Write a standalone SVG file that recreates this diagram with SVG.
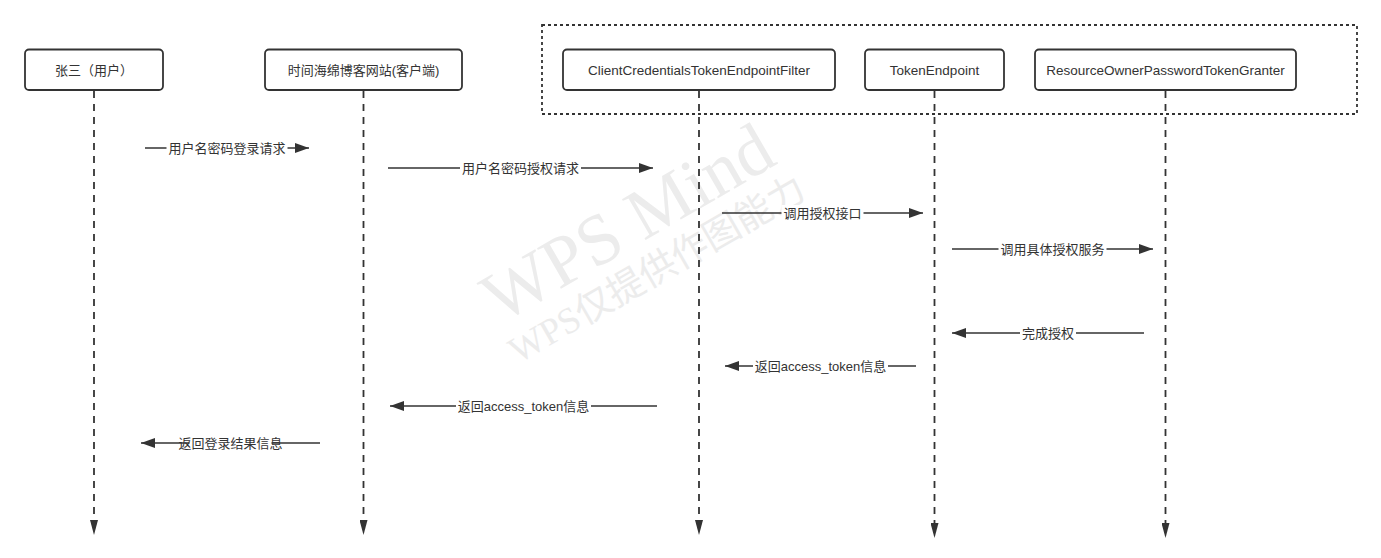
<svg xmlns="http://www.w3.org/2000/svg" width="1381" height="558" viewBox="0 0 1381 558">
<style>
.box{fill:#fff;stroke:#333;stroke-width:1.8}
.lbl{font-family:"Liberation Sans","Noto Sans CJK SC",sans-serif;font-size:13px;fill:#333;text-anchor:middle;dominant-baseline:central}
.lat{font-size:13.5px}
.life{stroke:#333;stroke-width:1.8;stroke-dasharray:7 6;fill:none}
.msg{stroke:#333;stroke-width:1.7;fill:none}
.bg{fill:#fff}
.group{fill:none;stroke:#333;stroke-width:1.8;stroke-dasharray:3 3}
.wm{font-family:"Liberation Serif","Noto Sans CJK SC",serif;fill:#ececec}
</style>
<defs>
<marker id="ah" markerUnits="userSpaceOnUse" markerWidth="14" markerHeight="10" refX="14" refY="5" orient="auto">
<path d="M0,0 L14,5 L0,10 z" fill="#333"/>
</marker>
<marker id="lh" markerUnits="userSpaceOnUse" markerWidth="15" markerHeight="8" refX="0" refY="4" orient="auto">
<path d="M0,0 L15,4 L0,8 z" fill="#333"/>
</marker>
</defs>
<rect width="1381" height="558" fill="#fff"/>
<g id="watermark">
<text class="wm" x="500" y="324" font-size="72" transform="rotate(-30 500 324)">WPS Mind</text>
<text class="wm" x="518" y="364" font-size="37" transform="rotate(-30 518 364)">WPS仅提供作图能力</text>
</g>
<g id="frame">
<rect class="group" x="542" y="25" width="815" height="89"/>
</g>
<g id="connectors">
<line class="life" x1="94" y1="91" x2="94" y2="520" marker-end="url(#lh)"/>
<line class="life" x1="363.5" y1="91" x2="363.5" y2="520" marker-end="url(#lh)"/>
<line class="life" x1="699" y1="91" x2="699" y2="520" marker-end="url(#lh)"/>
<line class="life" x1="934.5" y1="91" x2="934.5" y2="523" marker-end="url(#lh)"/>
<line class="life" x1="1165.5" y1="91" x2="1165.5" y2="523" marker-end="url(#lh)"/>

<line class="msg" x1="145" y1="148" x2="309" y2="148" marker-end="url(#ah)"/>
<rect class="bg" x="166.5" y="140" width="121" height="16"/>
<text class="lbl" x="227" y="148">用户名密码登录请求</text>

<line class="msg" x1="388" y1="168" x2="653" y2="168" marker-end="url(#ah)"/>
<rect class="bg" x="460" y="160" width="121" height="16"/>
<text class="lbl" x="520.5" y="168">用户名密码授权请求</text>

<line class="msg" x1="722" y1="213" x2="923" y2="213" marker-end="url(#ah)"/>
<rect class="bg" x="781.5" y="205" width="82" height="16"/>
<text class="lbl" x="822.5" y="213">调用授权接口</text>

<line class="msg" x1="952" y1="249" x2="1153" y2="249" marker-end="url(#ah)"/>
<rect class="bg" x="998.5" y="241" width="108" height="16"/>
<text class="lbl" x="1052.5" y="249">调用具体授权服务</text>

<line class="msg" x1="1144" y1="333" x2="952" y2="333" marker-end="url(#ah)"/>
<rect class="bg" x="1020" y="325" width="56" height="16"/>
<text class="lbl" x="1048" y="333">完成授权</text>

<line class="msg" x1="916" y1="366" x2="725" y2="366" marker-end="url(#ah)"/>
<rect class="bg" x="753" y="358" width="135" height="16"/>
<text class="lbl" x="820.5" y="366">返回access_token信息</text>

<line class="msg" x1="657" y1="406" x2="390" y2="406" marker-end="url(#ah)"/>
<rect class="bg" x="456" y="398" width="135" height="16"/>
<text class="lbl" x="523.5" y="406">返回access_token信息</text>

<line class="msg" x1="320" y1="443" x2="141" y2="443" marker-end="url(#ah)"/>
<rect class="bg" x="189.5" y="435" width="82" height="16"/>
<text class="lbl" x="230.5" y="443">返回登录结果信息</text>
</g>
<g id="node-zhangsan">
<rect class="box" x="25" y="49.5" width="138" height="40.5" rx="4"/>
<text class="lbl" x="94" y="70">张三（用户）</text>
</g>
<g id="node-website">
<rect class="box" x="265" y="49.5" width="197" height="40.5" rx="4"/>
<text class="lbl" x="363.5" y="70">时间海绵博客网站(客户端)</text>
</g>
<g id="node-filter">
<rect class="box" x="563" y="49.5" width="272" height="40.5" rx="4"/>
<text class="lbl lat" x="699" y="70">ClientCredentialsTokenEndpointFilter</text>
</g>
<g id="node-endpoint">
<rect class="box" x="865" y="49.5" width="139" height="40.5" rx="4"/>
<text class="lbl lat" x="934.5" y="70">TokenEndpoint</text>
</g>
<g id="node-granter">
<rect class="box" x="1035" y="49.5" width="261" height="40.5" rx="4"/>
<text class="lbl lat" x="1165.5" y="70">ResourceOwnerPasswordTokenGranter</text>
</g>
</svg>
